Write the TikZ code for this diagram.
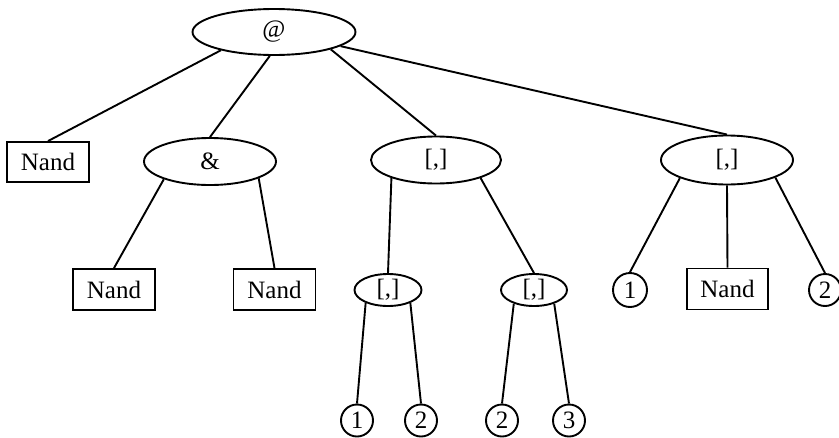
\documentclass[tikz,border=0pt]{standalone}
\usepackage{fontspec}
\setmainfont{Liberation Serif}
\usetikzlibrary{shapes.geometric}
\begin{document}
\begin{tikzpicture}[x=1pt,y=-1pt,
  every node/.style={font=\fontsize{25}{29}\selectfont, inner sep=0pt, line width=1.9pt, draw=black},
  oval/.style={ellipse},
  leafbox/.style={rectangle, minimum width=82pt, minimum height=41pt},
  leafcirc/.style={circle, minimum size=32pt},
  edge/.style={line width=1.9pt}]
\useasboundingbox (0,0) rectangle (839,437);
% top
\node[oval, minimum width=163pt, minimum height=46pt] (at) at (274,32) {@};
% level 1
\node[leafbox, minimum height=40pt] (nandA) at (48,162) {Nand};
\node[oval, minimum width=132pt, minimum height=47pt] (amp) at (210,161.5) {\&};
\node[oval, minimum width=130pt, minimum height=47pt] (pairM) at (436,160) {[,]};
\node[oval, minimum width=132pt, minimum height=49pt] (pairR) at (727,160) {[,]};
% level 2
\node[leafbox] (nandB) at (114,289.5) {Nand};
\node[leafbox] (nandC) at (274.5,289.5) {Nand};
\node[oval, minimum width=67pt, minimum height=32pt] (pairS1) at (388,290) {[,]};
\node[oval, minimum width=66pt, minimum height=32pt] (pairS2) at (534,290) {[,]};
\node[leafcirc, minimum size=34pt] (oneA) at (630,290) {1};
\node[leafbox, minimum width=81pt] (nandD) at (727.5,289) {Nand};
\node[leafcirc] (twoA) at (825,290) {2};
% level 3
\node[leafcirc] (oneB) at (357,420.5) {1};
\node[leafcirc] (twoB) at (421,420.5) {2};
\node[leafcirc] (twoC) at (502,420.5) {2};
\node[leafcirc] (threeA) at (569,420.5) {3};
% edges
\draw[edge] (at.199) -- (nandA.north);
\draw[edge] (at.260) -- (amp.north);
\draw[edge] (at.343) -- (pairM.north);
\draw[edge] (at.348) -- (pairR.north);
\draw[edge] (amp.201) -- (nandB.north);
\draw[edge] (amp.341) -- (nandC.north);
\draw[edge] (pairM.202) -- (pairS1.north);
\draw[edge] (pairM.338) -- (pairS2.north);
\draw[edge] (pairR.201) -- (oneA.north);
\draw[edge] (pairR.south) -- (nandD.north);
\draw[edge] (pairR.340) -- (twoA.north);
\draw[edge] (pairS1.210) -- (oneB.north);
\draw[edge] (pairS1.330) -- (twoB.north);
\draw[edge] (pairS2.214) -- (twoC.north);
\draw[edge] (pairS2.326) -- (threeA.north);
\end{tikzpicture}
\end{document}
